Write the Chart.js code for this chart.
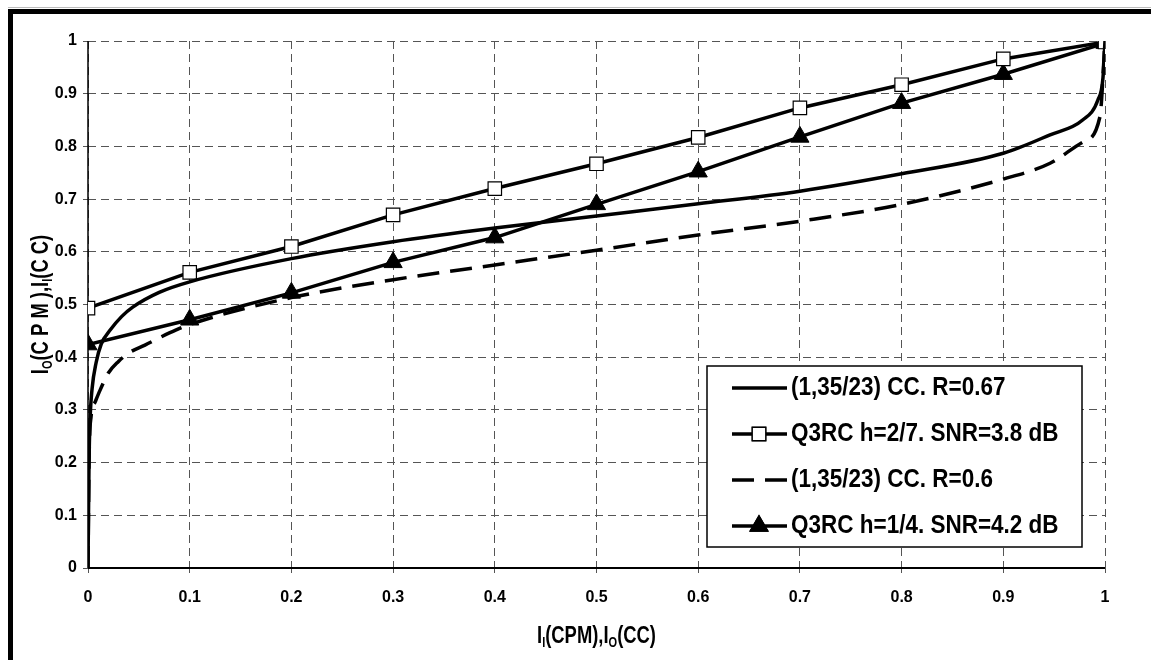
<!DOCTYPE html>
<html>
<head>
<meta charset="utf-8">
<script src="https://cdn.jsdelivr.net/npm/chart.js@4.4.1/dist/chart.umd.min.js"></script>
<style>
  html, body { margin: 0; padding: 0; background: #fff; }
  #wrap { position: relative; width: 1151px; height: 660px; }
</style>
</head>
<body>
<div id="wrap"><canvas id="capacityChart"></canvas></div>
<script>
const FONT = "'Liberation Sans', Arial, sans-serif";

const xTicks = [0, 0.1, 0.2, 0.3, 0.4, 0.5, 0.6, 0.7, 0.8, 0.9, 1];
const xTickLabels = ['0', '0.1', '0.2', '0.3', '0.4', '0.5', '0.6', '0.7', '0.8', '0.9', '1'];
const yTicks = [0, 0.1, 0.2, 0.3, 0.4, 0.5, 0.6, 0.7, 0.8, 0.9, 1];
const yTickLabels = ['0', '0.1', '0.2', '0.3', '0.4', '0.5', '0.6', '0.7', '0.8', '0.9', '1'];

// (1,35/23) CC, R=0.67
const cc067X = [0, 0.001, 0.002, 0.004, 0.008, 0.013, 0.022, 0.033, 0.044, 0.07, 0.1, 0.2, 0.3, 0.4, 0.5, 0.6, 0.7, 0.8, 0.9, 0.946, 0.978, 0.993, 0.998, 1];
const cc067Y = [0, 0.2, 0.28, 0.34, 0.39, 0.425, 0.452, 0.477, 0.495, 0.523, 0.543, 0.587, 0.619, 0.645, 0.668, 0.691, 0.715, 0.748, 0.787, 0.822, 0.85, 0.888, 0.93, 1];

// Q3RC h=2/7, SNR=3.8 dB
const q27X = [0, 0.1, 0.2, 0.3, 0.4, 0.5, 0.6, 0.7, 0.8, 0.9, 1];
const q27Y = [0.493, 0.561, 0.61, 0.67, 0.72, 0.767, 0.817, 0.873, 0.917, 0.966, 0.998];

// (1,35/23) CC, R=0.6
const cc06X = [0, 0.001, 0.003, 0.007, 0.012, 0.02, 0.03, 0.04, 0.056, 0.08, 0.1, 0.2, 0.3, 0.4, 0.5, 0.6, 0.7, 0.8, 0.9, 0.946, 0.978, 0.995, 1];
const cc06Y = [0, 0.2, 0.287, 0.315, 0.338, 0.37, 0.392, 0.408, 0.423, 0.446, 0.462, 0.513, 0.547, 0.575, 0.603, 0.632, 0.658, 0.69, 0.738, 0.768, 0.808, 0.856, 1];

// Q3RC h=1/4, SNR=4.2 dB
const q14X = [0, 0.1, 0.2, 0.3, 0.4, 0.5, 0.6, 0.7, 0.8, 0.9, 1];
const q14Y = [0.424, 0.471, 0.522, 0.58, 0.627, 0.69, 0.752, 0.818, 0.882, 0.937, 0.996];

const seriesLabels = [
    '(1,35/23) CC. R=0.67',
    'Q3RC h=2/7. SNR=3.8 dB',
    '(1,35/23) CC. R=0.6',
    'Q3RC h=1/4. SNR=4.2 dB'
];

const toPoints = (xs, ys) => xs.map((x, i) => ({ x: x, y: ys[i] }));

// outer black frame (only top and left edges are inside the picture)
const framePlugin = {
    id: 'frame',
    beforeDraw(chart) {
        const ctx = chart.ctx;
        ctx.save();
        ctx.fillStyle = '#fff';
        ctx.fillRect(0, 0, chart.width, chart.height);
        ctx.fillStyle = '#bbb';
        ctx.fillRect(8, 7, chart.width, 1);
        ctx.fillStyle = '#000';
        ctx.fillRect(8, 9, chart.width, 5);
        ctx.fillRect(8, 9, 5, chart.height);
        ctx.restore();
    }
};

// solid left and bottom axis lines over the dashed grid
const axisLinePlugin = {
    id: 'axisLines',
    beforeDatasetsDraw(chart) {
        const ctx = chart.ctx;
        const a = chart.chartArea;
        ctx.save();
        ctx.setLineDash([]);
        ctx.strokeStyle = '#000';
        ctx.lineWidth = 1.5;
        ctx.beginPath();
        ctx.moveTo(a.left, a.top);
        ctx.lineTo(a.left, a.bottom);
        ctx.stroke();
        ctx.lineWidth = 2;
        ctx.beginPath();
        ctx.moveTo(a.left, a.bottom);
        ctx.lineTo(a.right, a.bottom);
        ctx.stroke();
        ctx.restore();
    }
};

// draws text runs with subscripts, a bit taller than wide like the original
function drawRuns(ctx, runs, size) {
    const subSize = Math.round(size * 0.62);
    let total = 0;
    runs.forEach(r => {
        ctx.font = `bold ${r.sub ? subSize : size}px ${FONT}`;
        total += ctx.measureText(r.t).width;
    });
    ctx.scale(0.92, 1.2);
    let x = -total / 2;
    runs.forEach(r => {
        ctx.font = `bold ${r.sub ? subSize : size}px ${FONT}`;
        ctx.fillText(r.t, x, r.sub ? size * 0.28 : 0);
        x += ctx.measureText(r.t).width;
    });
}

const axisTitlePlugin = {
    id: 'axisTitles',
    afterDraw(chart) {
        const ctx = chart.ctx;
        const area = chart.chartArea;
        ctx.save();
        ctx.fillStyle = '#000';
        ctx.textBaseline = 'middle';
        ctx.textAlign = 'left';
        ctx.translate((area.left + area.right) / 2, 636);
        drawRuns(ctx, [{ t: 'I' }, { t: 'I', sub: true }, { t: '(CPM),I' }, { t: 'O', sub: true }, { t: '(CC)' }], 20);
        ctx.restore();

        ctx.save();
        ctx.fillStyle = '#000';
        ctx.textBaseline = 'middle';
        ctx.textAlign = 'left';
        ctx.translate(41, (area.top + area.bottom) / 2);
        ctx.rotate(-Math.PI / 2);
        drawRuns(ctx, [{ t: 'I' }, { t: 'O', sub: true }, { t: '(C P M ),I' }, { t: 'I', sub: true }, { t: '(C C)' }], 20);
        ctx.restore();
    }
};

const legendBoxPlugin = {
    id: 'legendBox',
    afterDraw(chart) {
        const ctx = chart.ctx;
        const box = { x: 707, y: 366, w: 375, h: 181 };
        ctx.save();
        ctx.fillStyle = '#fff';
        ctx.fillRect(box.x, box.y, box.w, box.h);
        ctx.strokeStyle = '#000';
        ctx.lineWidth = 1.5;
        ctx.strokeRect(box.x, box.y, box.w, box.h);
        ctx.textBaseline = 'middle';
        chart.data.datasets.forEach((ds, i) => {
            const y = 388 + i * 46;
            ctx.save();
            ctx.strokeStyle = ds.borderColor;
            ctx.lineWidth = ds.borderWidth;
            ctx.setLineDash(ds.borderDash || []);
            ctx.beginPath();
            ctx.moveTo(732, y);
            ctx.lineTo(787, y);
            ctx.stroke();
            ctx.restore();
            if (ds.pointRadius > 0) {
                Chart.helpers.drawPoint(ctx, {
                    pointStyle: ds.pointStyle,
                    radius: ds.pointRadius,
                    borderWidth: ds.pointBorderWidth,
                    rotation: 0
                }, 759, y);
                ctx.fillStyle = ds.pointBackgroundColor;
                ctx.strokeStyle = ds.pointBorderColor;
                ctx.lineWidth = ds.pointBorderWidth;
                ctx.fill();
                ctx.stroke();
            }
            ctx.save();
            ctx.fillStyle = '#000';
            ctx.font = `bold 22.5px ${FONT}`;
            ctx.translate(791, y);
            ctx.scale(1, 1.15);
            ctx.fillText(seriesLabels[i], 0, 0);
            ctx.restore();
        });
        ctx.restore();
    }
};

function createCapacityChart(ctx) {
    if (!ctx) return;
    new Chart(ctx, {
        type: 'line',
        data: {
            datasets: [{
                label: seriesLabels[0],
                data: toPoints(cc067X, cc067Y),
                borderColor: '#000',
                borderWidth: 3.5,
                pointRadius: 0,
                cubicInterpolationMode: 'monotone'
            }, {
                label: seriesLabels[1],
                data: toPoints(q27X, q27Y),
                borderColor: '#000',
                borderWidth: 3.5,
                pointStyle: 'rect',
                pointRadius: 9.5,
                pointBorderWidth: 1.2,
                pointBackgroundColor: '#fff',
                pointBorderColor: '#000',
                tension: 0
            }, {
                label: seriesLabels[2],
                data: toPoints(cc06X, cc06Y),
                borderColor: '#000',
                borderWidth: 3.5,
                borderDash: [22, 11],
                pointRadius: 0,
                cubicInterpolationMode: 'monotone'
            }, {
                label: seriesLabels[3],
                data: toPoints(q14X, q14Y),
                borderColor: '#000',
                borderWidth: 3.5,
                pointStyle: 'triangle',
                pointRadius: 10.5,
                pointBorderWidth: 1,
                pointBackgroundColor: '#000',
                pointBorderColor: '#000',
                tension: 0
            }]
        },
        options: {
            responsive: false,
            animation: false,
            layout: { padding: { left: 0, top: 41, right: 46, bottom: 0 } },
            plugins: { legend: { display: false }, tooltip: { enabled: false } },
            scales: {
                x: {
                    type: 'linear', min: 0, max: 1,
                    afterFit: (scale) => { scale.height = 92; },
                    afterBuildTicks: (scale) => { scale.ticks = xTicks.map(v => ({ value: v })); },
                    ticks: {
                        callback: (value, index) => xTickLabels[index],
                        color: '#000', padding: 15, maxRotation: 0,
                        font: { family: FONT, size: 16, weight: 'bold' }
                    },
                    grid: { color: '#555', lineWidth: 1, tickLength: 5, tickBorderDash: [], tickColor: '#555' },
                    border: { display: false, dash: [8, 5] }
                },
                y: {
                    type: 'linear', min: 0, max: 1,
                    afterFit: (scale) => { scale.width = 88; },
                    afterBuildTicks: (scale) => { scale.ticks = yTicks.map(v => ({ value: v })); },
                    ticks: {
                        callback: (value, index) => yTickLabels[index],
                        color: '#000', padding: 6,
                        font: { family: FONT, size: 16, weight: 'bold' }
                    },
                    grid: { color: '#555', lineWidth: 1, tickLength: 5, tickBorderDash: [], tickColor: '#555' },
                    border: { display: false, dash: [8, 5] }
                }
            }
        },
        plugins: [framePlugin, axisLinePlugin, axisTitlePlugin, legendBoxPlugin]
    });
}

const canvas = document.getElementById('capacityChart');
canvas.width = 1151;
canvas.height = 660;
createCapacityChart(canvas.getContext('2d'));
</script>
</body>
</html>
